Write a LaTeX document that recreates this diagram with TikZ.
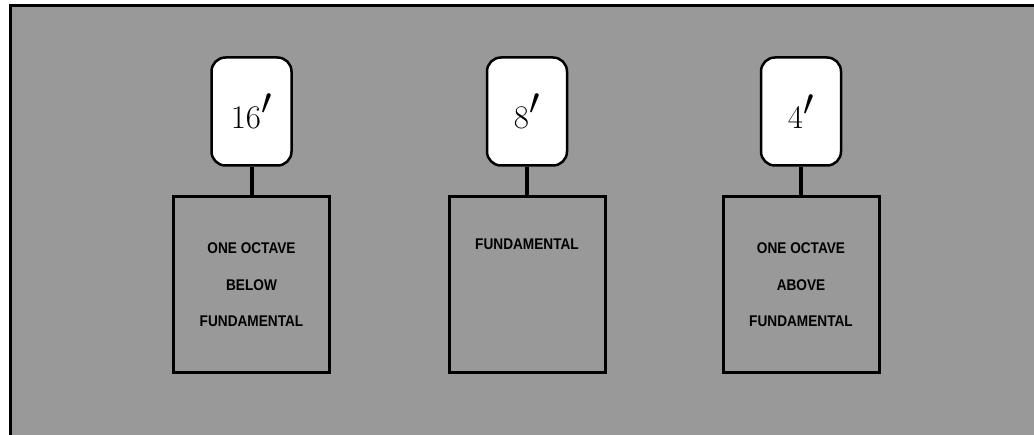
\documentclass[tikz,border=0pt]{standalone}
\usepackage{fontspec}
\usetikzlibrary{positioning}
\newfontfamily\labelfont[FakeStretch=0.88]{Liberation Sans}
\begin{document}
\begin{tikzpicture}[x=1pt,y=-1pt]
  % Parameters
  \def\boxtop{197}
  \def\boxwd{156}
  \def\boxht{176}

  % Styles
  \tikzset{
    bulb/.style={draw, line width=2.5pt, fill=white, rounded corners=14pt,
      minimum width=80pt, minimum height=108pt, inner sep=0pt,
      font=\fontsize{33}{33}\selectfont},
    regbox/.style={draw, line width=3pt, minimum width=\boxwd pt,
      minimum height=\boxht pt, inner sep=0pt},
    regtext/.style={align=center, inner sep=0pt,
      font=\labelfont\bfseries\fontsize{15.5}{36.5}\selectfont},
    stem/.style={line width=4pt}
  }

  \useasboundingbox (0,0) rectangle (1034,435);

  % Background and frame
  \fill[black!40] (10,6) rectangle (1034,435);
  \draw[line width=3pt] (10,435) -- (10,6) -- (1034,6);

  % Bulbs, stems and boxes
  \foreach \name/\xpos in {16/251.5, 8/527, 4/801} {
    \node[bulb] (bulb\name) at (\xpos,111.5) {\name\scalebox{1.5}{$'$}};
    \node[regbox] (reg\name) at (\xpos,\boxtop+\boxht/2) {};
    \draw[stem] (bulb\name.south) -- (reg\name.north);
  }

  % Box texts
  \node[regtext] (txt16) at (reg16.center) {ONE OCTAVE\\BELOW\\FUNDAMENTAL};
  \node[regtext, below=43pt of reg8.north] (txt8) {FUNDAMENTAL};
  \node[regtext] (txt4) at (reg4.center) {ONE OCTAVE\\ABOVE\\FUNDAMENTAL};
\end{tikzpicture}
\end{document}
